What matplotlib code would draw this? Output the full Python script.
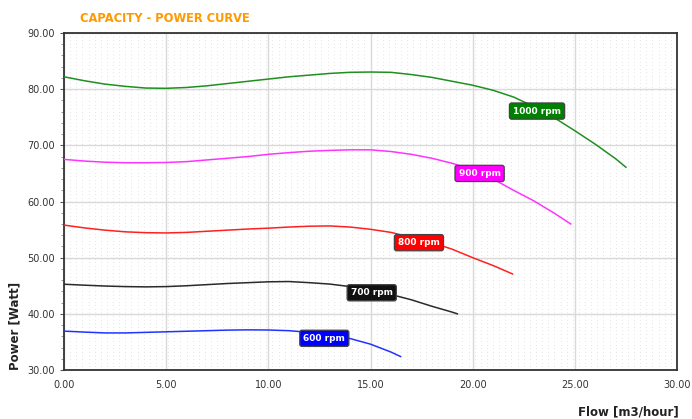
import numpy as np
import matplotlib
matplotlib.use('Agg')
import matplotlib.pyplot as plt
from matplotlib.ticker import MultipleLocator, FormatStrFormatter

# curves, flow [m3/hour] vs power [Watt]
x1000 = [0, 1, 2, 3, 4, 5, 6, 7, 8, 9, 10, 11, 12, 13, 14, 15, 16, 17, 18, 19, 20, 21, 22, 23, 24, 25, 26, 27, 27.5]
p1000 = [82.2, 81.5, 80.9, 80.5, 80.2, 80.15, 80.3, 80.6, 81.0, 81.4, 81.8, 82.2, 82.5, 82.8, 83.0, 83.05, 83.0, 82.6,
         82.1, 81.4, 80.7, 79.8, 78.6, 76.9, 74.9, 72.6, 70.2, 67.6, 66.1]
x900 = [0, 1, 2, 3, 4, 5, 6, 7, 8, 9, 10, 11, 12, 13, 14, 15, 16, 17, 18, 19, 20, 21, 22, 23, 24, 24.8]
p900 = [67.5, 67.2, 67.0, 66.9, 66.9, 66.95, 67.1, 67.4, 67.7, 68.0, 68.4, 68.7, 68.95, 69.1, 69.2, 69.2, 68.9, 68.4,
        67.7, 66.8, 65.6, 64.0, 62.0, 60.1, 57.9, 56.0]
x800 = [0, 1, 2, 3, 4, 5, 6, 7, 8, 9, 10, 11, 12, 13, 14, 15, 16, 17, 18, 19, 20, 21, 21.95]
p800 = [55.8, 55.3, 54.9, 54.6, 54.45, 54.4, 54.5, 54.7, 54.9, 55.1, 55.25, 55.45, 55.6, 55.65, 55.45, 55.05, 54.5,
        53.6, 52.7, 51.5, 50.0, 48.6, 47.1]
x700 = [0, 1, 2, 3, 4, 5, 6, 7, 8, 9, 10, 11, 12, 13, 14, 15, 16, 17, 18, 19, 19.25]
p700 = [45.27, 45.1, 44.95, 44.85, 44.8, 44.85, 45.0, 45.2, 45.4, 45.55, 45.7, 45.75, 45.55, 45.3, 44.85, 44.2, 43.45,
        42.5, 41.35, 40.3, 40.0]
x600 = [0, 1, 2, 3, 4, 5, 6, 7, 8, 9, 10, 11, 12, 13, 14, 15, 16, 16.47]
p600 = [36.92, 36.75, 36.6, 36.6, 36.7, 36.8, 36.9, 37.0, 37.1, 37.15, 37.12, 37.0, 36.7, 36.2, 35.6, 34.6, 33.2, 32.4]

labels = ['1000 rpm', '900 rpm', '800 rpm', '700 rpm', '600 rpm']
colors = ['#008000', '#FF00FF', '#FF0000', '#111111', '#0000FF']
line_colors = ['#1f8f1f', '#FF33FF', '#FF2020', '#2a2a2a', '#2233FF']
# where the rpm tag sits on each curve
label_x = [23.15, 20.34, 17.37, 15.06, 12.74]
label_y = [76.1, 65.0, 52.67, 43.75, 35.64]

xs = [x1000, x900, x800, x700, x600]
ps = [p1000, p900, p800, p700, p600]

fig = plt.figure(figsize=(6.92, 4.19), dpi=100)
ax = fig.add_axes([64 / 692, 1 - 370 / 419, 613 / 692, 337 / 419])

for x, p, lc in zip(xs, ps, line_colors):
    ax.plot(x, p, color=lc, lw=1.1, zorder=3, solid_joinstyle='round')

for lab, lx, ly, c in zip(labels, label_x, label_y, colors):
    ax.text(lx, ly, lab, color='white', fontsize=6.5, fontweight='bold', ha='center', va='center', zorder=5,
            bbox=dict(boxstyle='round,pad=0.4,rounding_size=0.25', facecolor=c, edgecolor='#444444', lw=0.9))

ax.set_xlim(0, 30)
ax.set_ylim(30, 90)
ax.xaxis.set_major_locator(MultipleLocator(5))
ax.yaxis.set_major_locator(MultipleLocator(10))
ax.xaxis.set_minor_locator(MultipleLocator(0.3))
ax.yaxis.set_minor_locator(MultipleLocator(2))
ax.xaxis.set_major_formatter(FormatStrFormatter('%.2f'))
ax.yaxis.set_major_formatter(FormatStrFormatter('%.2f'))

ax.grid(which='major', color='#d9d9d9', lw=1.0, zorder=1)
# dotted background texture
ax.grid(which='minor', axis='x', color='#b8b8b8', lw=0.6, linestyle=(0, (0.5, 3.8)), zorder=0)
ax.set_axisbelow(True)

ax.tick_params(axis='both', which='major', labelsize=7, labelcolor='#333333', colors='#555555', length=3, width=0.8)
ax.tick_params(axis='x', which='major', length=0, pad=7)
ax.tick_params(axis='x', which='minor', length=0)
ax.tick_params(axis='y', which='minor', length=2, width=0.6, colors='#888888')
for s in ax.spines.values():
    s.set_color('#333333')
    s.set_linewidth(1.3)

ax.set_ylabel('Power [Watt]', fontsize=8.5, fontweight='bold', color='#222222', loc='bottom')
ax.yaxis.set_label_coords(-0.08, 0.0)
ax.yaxis.label.set_va('center')
ax.set_xlabel('Flow [m3/hour]', fontsize=8.5, fontweight='bold', color='#222222', loc='right')
ax.xaxis.set_label_coords(1.003, -0.124)
ax.xaxis.label.set_va('center')

fig.text(80 / 692, 1 - 18 / 419, 'CAPACITY - POWER CURVE', color='#FF9900', fontsize=8.3, fontweight='bold',
         va='center', ha='left')

fig.savefig('out.png', dpi=100)
